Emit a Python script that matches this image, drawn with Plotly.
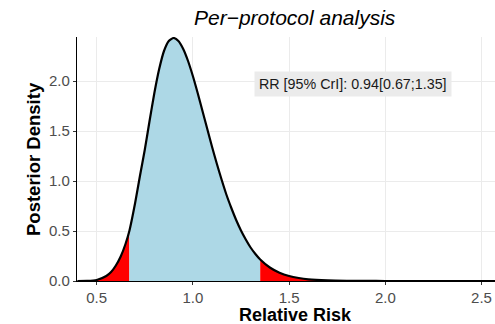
import plotly.graph_objects as go

# Posterior density of the relative risk
rr = [0.40, 0.45, 0.50, 0.55, 0.575, 0.60, 0.625, 0.65, 0.67, 0.70, 0.725,
      0.75, 0.775, 0.80, 0.825, 0.85, 0.875, 0.90, 0.925, 0.95, 0.975, 1.00,
      1.025, 1.05, 1.075, 1.10, 1.125, 1.15, 1.175, 1.20, 1.225, 1.25, 1.275,
      1.30, 1.325, 1.35, 1.40, 1.45, 1.50, 1.55, 1.60, 1.70, 1.80, 1.90, 2.00,
      2.20, 2.40, 2.57]
density = [0.000, 0.001, 0.010, 0.050, 0.090, 0.155, 0.245, 0.370, 0.500, 0.780, 1.050,
           1.310, 1.600, 1.880, 2.120, 2.300, 2.400, 2.430, 2.400, 2.320, 2.200, 2.050,
           1.880, 1.700, 1.520, 1.340, 1.170, 1.010, 0.860, 0.730, 0.610, 0.505, 0.415,
           0.335, 0.270, 0.215, 0.135, 0.083, 0.050, 0.030, 0.017, 0.006, 0.002, 0.0006, 0.0002,
           0.0, 0.0, 0.0]
rr_median = 0.94
cri_low = 0.67
cri_high = 1.35

x_ticks = [0.5, 1.0, 1.5, 2.0, 2.5]
y_ticks = [0.0, 0.5, 1.0, 1.5, 2.0]

FONT = "Liberation Sans, Arial, Helvetica, sans-serif"

def subset(lo, hi):
    xs, ys = [], []
    for x, y in zip(rr, density):
        if lo <= x <= hi:
            xs.append(x)
            ys.append(y)
    return xs, ys

fig = go.Figure()
lx, ly = subset(-1, cri_low)
mx, my = subset(cri_low, cri_high)
hx, hy = subset(cri_high, 99)
for xs, ys, col in [(lx, ly, "#FF0000"), (mx, my, "#ADD8E6"), (hx, hy, "#FF0000")]:
    fig.add_trace(go.Scatter(x=xs, y=ys, mode="lines", fill="tozeroy",
                             fillcolor=col, line=dict(width=0, shape="spline", smoothing=0.6),
                             hoverinfo="skip", showlegend=False))
fig.add_trace(go.Scatter(x=rr, y=density, mode="lines",
                         line=dict(color="black", width=2.2, shape="spline", smoothing=0.6),
                         showlegend=False))

axis_common = dict(showgrid=True, gridcolor="#EBEBEB", gridwidth=1,
                   showline=True, linecolor="black", linewidth=1.2,
                   ticks="outside", ticklen=3, tickcolor="#333333", tickwidth=1,
                   zeroline=False, tickfont=dict(family=FONT, size=15, color="#4D4D4D"))

fig.update_xaxes(range=[0.398, 2.57], tickvals=x_ticks,
                 ticktext=[f"{v:.1f}" for v in x_ticks], **axis_common)
fig.update_yaxes(range=[0, 2.44], tickvals=y_ticks,
                 ticktext=[f"{v:.1f}" for v in y_ticks], **axis_common)

label = f"RR [95% CrI]: {rr_median:.2f}[{cri_low:.2f};{cri_high:.2f}]"
fig.add_annotation(x=1.8305, y=1.97, xref="x", yref="y", text=label, showarrow=False,
                   font=dict(family=FONT, size=14.3, color="#1A1A1A"),
                   bgcolor="#EBEBEB", borderpad=4)
fig.add_annotation(x=(295 - 77) / 418, y=(281 - 315) / 243, xref="paper", yref="paper",
                   text="<b>Relative Risk</b>", showarrow=False, yanchor="middle",
                   font=dict(family=FONT, size=18, color="black"))
fig.add_annotation(x=(33 - 77) / 418, y=0.5, xref="paper", yref="paper",
                   text="<b>Posterior Density</b>", showarrow=False, textangle=-90,
                   xanchor="center", yanchor="middle",
                   font=dict(family=FONT, size=18.5, color="black"))
fig.add_annotation(x=(295 - 77) / 418, y=(281 - 19) / 243, xref="paper", yref="paper",
                   text="<i>Per\u2212protocol analysis</i>", showarrow=False, yanchor="middle",
                   font=dict(family=FONT, size=21, color="black"))

fig.update_layout(width=495, height=324, margin=dict(l=77, r=0, t=37, b=43),
                  paper_bgcolor="white", plot_bgcolor="white", showlegend=False)

fig.write_html("out.html")
